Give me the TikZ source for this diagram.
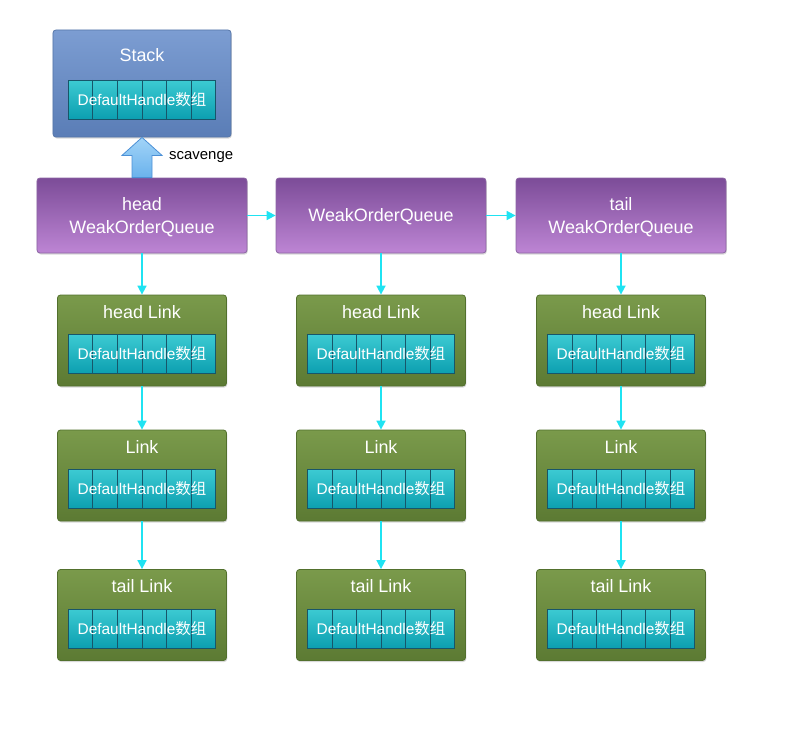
\documentclass[tikz,border=0pt]{standalone}
\usepackage{fontspec}
\setmainfont{Liberation Sans}
\newfontfamily\cjk{Noto Sans CJK SC}
\usetikzlibrary{calc,arrows.meta,shadows}

\definecolor{stacktop}{HTML}{7C9DD2}
\definecolor{stackbottom}{HTML}{5A7DB6}
\definecolor{stackline}{HTML}{5676A8}
\definecolor{queuetop}{HTML}{7C4C98}
\definecolor{queuebottom}{HTML}{BD85D4}
\definecolor{queueline}{HTML}{8C65A3}
\definecolor{linktop}{HTML}{7A9A4B}
\definecolor{linkbottom}{HTML}{5C7A33}
\definecolor{linkline}{HTML}{52702D}
\definecolor{celltop}{HTML}{3CCAD2}
\definecolor{cellbottom}{HTML}{0C9FB0}
\definecolor{cellline}{HTML}{17566A}
\definecolor{pointer}{HTML}{1FE3F2}
\definecolor{scavtop}{HTML}{A2D4F8}
\definecolor{scavbottom}{HTML}{6AB2EC}
\definecolor{scavline}{HTML}{4C90D6}

\tikzset{
  card/.style={draw, rounded corners=3bp, line width=0.8bp,
    drop shadow={opacity=0.3, shadow xshift=0.8bp, shadow yshift=-1.5bp}},
  stackbox/.style={card, draw=stackline, top color=stacktop, bottom color=stackbottom,
    minimum width=178bp, minimum height=107bp},
  queuebox/.style={card, draw=queueline, top color=queuetop, bottom color=queuebottom,
    minimum width=210bp, minimum height=75bp, text=white, align=center, text depth=0pt,
    font=\fontsize{18}{23}\selectfont},
  linkbox/.style={card, draw=linkline, top color=linktop, bottom color=linkbottom,
    minimum width=169bp, minimum height=91bp},
  title/.style={text=white, font=\fontsize{18}{22}\selectfont, inner sep=0pt},
  handlearray/.style={draw=cellline, line width=0.6bp, top color=celltop, bottom color=cellbottom,
    minimum width=147bp, minimum height=39bp, inner sep=0pt},
  handletext/.style={text=white, inner sep=0pt, font=\fontsize{15.5}{18}\selectfont},
  celldivider/.style={draw=cellline, line width=0.6bp},
  follow/.style={draw=pointer, line width=1.7bp, -{Triangle[length=9bp,width=9bp]}},
  scavarrow/.style={draw=scavline, line width=0.8bp, top color=scavtop, bottom color=scavbottom}
}

% DefaultHandle array of six cells
\newcommand\handles[2]{%
  \node[handlearray] (#2) at (#1) {};
  \foreach \i in {1,...,5}
    \draw[celldivider] ($(#2.north west)!\i/6!(#2.north east)$) -- ($(#2.south west)!\i/6!(#2.south east)$);
  \node[handletext] (#2-text) at (#2.center) {DefaultHandle{\cjk 数组}};}

% one Link card: position, name, title
\newcommand\linkcard[3]{%
  \node[linkbox] (#2) at (#1) {};
  \node[title] (#2-title) at ($(#2.north)+(0,17)$) {#3};
  \handles{$(#2.north)+(0,59.5)$}{#2-arr}}

\begin{document}
\begin{tikzpicture}[x=1bp, y=-1bp]
		\useasboundingbox (0,0) rectangle (799,733);
		
		%%%%% STACK %%%%%
		\node[stackbox] (stack) at (142,83.5) {};
		\node[title] (stack-title) at ($(stack.north)+(0,25)$) {Stack};
		\handles{$(stack.north)+(0,70)$}{stack-arr}
		
		%%%%% QUEUES %%%%%
		\node[queuebox] (headq) at (142,215.5) {head\\WeakOrderQueue};
		\node[queuebox] (midq) at (381,215.5) {WeakOrderQueue};
		\node[queuebox] (tailq) at (621,215.5) {tail\\WeakOrderQueue};
		
		\draw[scavarrow] (stack.south) -- ++(20,18) -- ++(-10,0) -- ($(headq.north)+(10,0)$)
			-- ($(headq.north)+(-10,0)$) -- ($(stack.south)+(-10,18)$) -- ++(-10,0) -- cycle;
		\node[font=\fontsize{15}{18}\selectfont, anchor=west, inner sep=0pt] (scav) at (169,157) {scavenge};
		
		\draw[follow] (headq.east) -- (midq.west);
		\draw[follow] (midq.east) -- (tailq.west);
		
		%%%%% LINKS %%%%%
		\linkcard{142,340.5}{a1}{head Link}
		\linkcard{142,475.5}{a2}{Link}
		\linkcard{142,615}{a3}{tail Link}
		
		\linkcard{381,340.5}{b1}{head Link}
		\linkcard{381,475.5}{b2}{Link}
		\linkcard{381,615}{b3}{tail Link}
		
		\linkcard{621,340.5}{c1}{head Link}
		\linkcard{621,475.5}{c2}{Link}
		\linkcard{621,615}{c3}{tail Link}
		
		\draw[follow] (headq.south) -- (a1.north);
		\draw[follow] (a1.south) -- (a2.north);
		\draw[follow] (a2.south) -- (a3.north);
		
		\draw[follow] (midq.south) -- (b1.north);
		\draw[follow] (b1.south) -- (b2.north);
		\draw[follow] (b2.south) -- (b3.north);
		
		\draw[follow] (tailq.south) -- (c1.north);
		\draw[follow] (c1.south) -- (c2.north);
		\draw[follow] (c2.south) -- (c3.north);
		
	\end{tikzpicture}
\end{document}
